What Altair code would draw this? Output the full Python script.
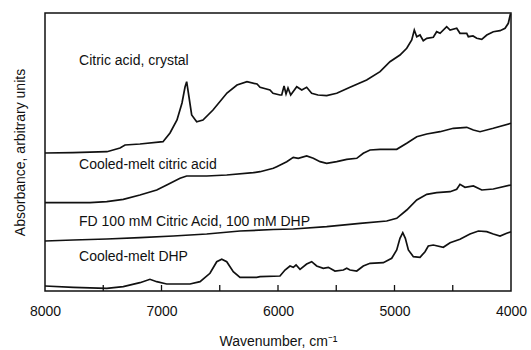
import altair as alt
import pandas as pd

# ---- data ----
crystal_wn = [8000, 7760, 7468, 7356, 7313, 7185, 6987, 6927, 6867, 6824, 6798, 6784, 6764, 6741,
              6698, 6644, 6558, 6438, 6352, 6266, 6180, 6154, 6069, 6043, 5983, 5968, 5948, 5931,
              5914, 5891, 5839, 5796, 5754, 5711, 5657, 5582, 5496, 5382, 5239, 5124, 5039, 4953,
              4895, 4852, 4830, 4809, 4781, 4753, 4723, 4667, 4638, 4609, 4552, 4523, 4466, 4438,
              4380, 4366, 4326, 4294, 4251, 4208, 4152, 4094, 4051, 4023, 4005]
crystal_abs = [138, 138.3, 139.3, 143, 146, 147, 149.3, 158, 171, 188, 204, 209.3, 194, 176,
               169.3, 171, 181, 198, 206, 209.3, 207, 203.7, 201, 197.7, 196, 196, 205, 197,
               203, 196, 204.3, 201, 203.7, 197.7, 196, 195.3, 197.7, 203.7, 211, 219.3, 229.3, 236,
               242.7, 251, 261, 254.3, 256, 250.3, 252.7, 253.7, 259.3, 257.7, 264.3, 261, 262.7, 257.7,
               257.7, 254.3, 255, 252.7, 251.7, 256, 259.3, 260.3, 262.7, 267.7, 277]

melt_wn = [8000, 7614, 7470, 7328, 7185, 7041, 6955, 6841, 6784, 6612, 6440, 6212, 6154, 6040,
           6011, 5925, 5869, 5826, 5754, 5697, 5639, 5582, 5496, 5410, 5324, 5268, 5210, 5124,
           4981, 4895, 4809, 4723, 4609, 4495, 4380, 4323, 4266, 4152, 4000]
melt_abs = [88.3, 88.3, 89.3, 91.7, 96, 101, 106, 112.7, 115, 115, 116, 118.3, 119.3, 122.7,
            124.3, 129.3, 133.7, 132.7, 135, 132.7, 129.3, 127.7, 129.3, 131.7, 132.7, 137.7, 141, 141.7,
            141.7, 147.7, 154.3, 157, 159.3, 162.7, 163.7, 161, 159.3, 162.7, 167.7]

fd_wn = [8000, 7757, 7470, 7185, 6899, 6612, 6326, 6040, 5869, 5582, 5296, 5067, 4981, 4895,
         4809, 4723, 4638, 4523, 4466, 4438, 4395, 4323, 4251, 4152, 4000]
fd_abs = [50, 51, 52, 53.3, 55, 57, 60, 61.5, 62, 64.3, 67.7, 70, 72.7, 81,
          91, 96.7, 98.3, 99.3, 101.7, 106.7, 103.7, 105, 101, 102, 106]

dhp_wn = [8000, 7757, 7470, 7328, 7185, 7099, 7041, 6955, 6755, 6669, 6584, 6526, 6483, 6440,
          6384, 6326, 6183, 6154, 5983, 5940, 5897, 5869, 5845, 5811, 5754, 5711, 5668, 5611,
          5568, 5511, 5439, 5410, 5382, 5324, 5268, 5210, 5096, 5024, 4981, 4953, 4929, 4907,
          4881, 4838, 4781, 4738, 4710, 4667, 4581, 4523, 4438, 4352, 4280, 4208, 4152, 4094,
          4037, 4000]
dhp_abs = [5, 3.7, 2.7, 4.3, 8.3, 11.7, 9.3, 7, 7, 9.3, 17.7, 29.3, 31.7, 29.3,
           19.3, 13.7, 13.7, 14.3, 15, 21, 25, 23.7, 26, 21.7, 27, 29.3, 25, 22.7,
           23.7, 20, 21, 22.7, 21, 20, 25, 27.7, 28.3, 32.7, 41, 52.7, 58.3, 52.7,
           41, 34.3, 33.7, 39.3, 45, 46, 43.7, 48.3, 51.7, 57, 60, 59.3, 57, 55,
           57.7, 59.3]

series_names = ["Citric acid, crystal", "Cooled-melt citric acid",
                "FD 100 mM Citric Acid, 100 mM DHP", "Cooled-melt DHP"]
label_wn = [7708, 7708, 7708, 7708]
label_abs = [230, 126, 69, 34]

tick_values = [7500, 7000, 6500, 6000, 5500, 5000, 4500]
label_values = [8000, 7000, 6000, 5000, 4000]

# ---- build tables ----
rows = []
for name, wn, ab in zip(series_names,
                        [crystal_wn, melt_wn, fd_wn, dhp_wn],
                        [crystal_abs, melt_abs, fd_abs, dhp_abs]):
    for w, a in zip(wn, ab):
        rows.append({"series": name, "wn": w, "abs": a})
df = pd.DataFrame(rows)
labels_df = pd.DataFrame({"text": series_names, "wn": label_wn, "abs": label_abs})
ticks_df = pd.DataFrame({"tick": tick_values})

FONT = "Liberation Sans"
W, H = 466, 278

xscale = alt.Scale(domain=[4000, 8000], reverse=True, nice=False, zero=False)
yscale = alt.Scale(domain=[0, 278], nice=False, zero=False)

lines = alt.Chart(df).mark_line(color="#111111", strokeWidth=1.7).encode(
    x=alt.X("wn:Q", scale=xscale,
            axis=alt.Axis(title="Wavenumber, cm⁻¹", values=label_values, format="d",
                          ticks=False, domain=False, grid=False, labelPadding=13,
                          labelFlush=False, labelOverlap=False,
                          labelFontSize=14, titleFontSize=14, titlePadding=16,
                          labelFont=FONT, titleFont=FONT, labelColor="#111111",
                          titleColor="#111111", titleFontWeight="normal")),
    y=alt.Y("abs:Q", scale=yscale,
            axis=alt.Axis(title="Absorbance, arbitrary units", labels=False, ticks=False,
                          domain=False, grid=False, titleFontSize=14, titleFont=FONT,
                          titleColor="#111111", titleFontWeight="normal", titlePadding=18)),
    detail="series:N",
)

texts = alt.Chart(labels_df).mark_text(align="left", baseline="middle", fontSize=14,
                                       font=FONT, color="#111111").encode(
    x=alt.X("wn:Q", scale=xscale),
    y=alt.Y("abs:Q", scale=yscale),
    text="text:N",
)

ticks = alt.Chart(ticks_df).mark_tick(color="#111111", thickness=1.3, size=6,
                                       orient="vertical", opacity=1).encode(
    x=alt.X("tick:Q", scale=xscale),
    y=alt.Y(datum=3, scale=yscale),
)

chart = alt.layer(lines, texts, ticks).properties(
    width=W, height=H,
    autosize=alt.AutoSizeParams(type="none"),
    padding={"left": 45, "top": 13, "right": 20, "bottom": 59},
    background="white",
).configure_view(stroke="#111111", strokeWidth=1.5)

chart.save("out.html", embed_options={"renderer": "svg", "actions": False})
